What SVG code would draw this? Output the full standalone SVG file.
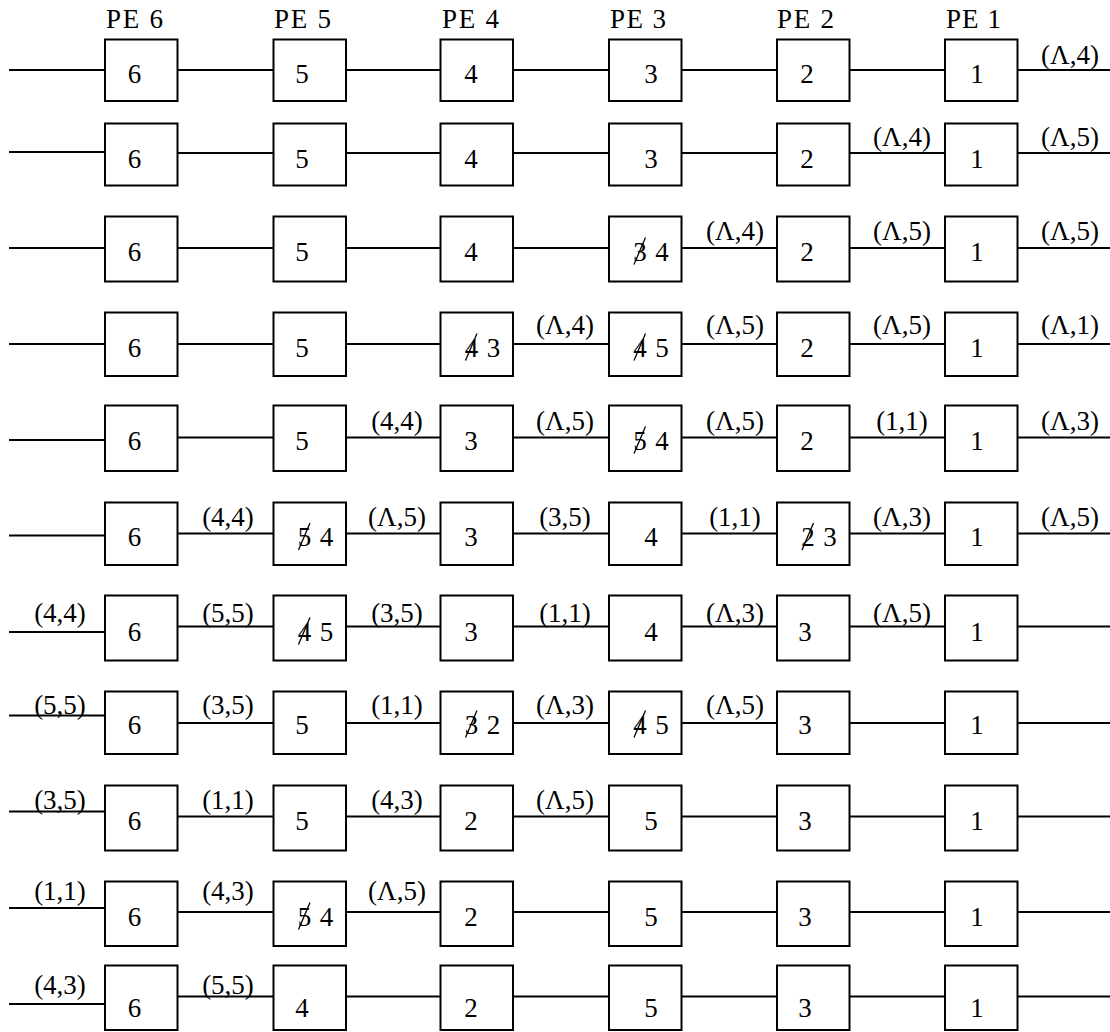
<svg xmlns="http://www.w3.org/2000/svg" width="1110" height="1032" viewBox="0 0 1110 1032" font-family="Liberation Serif, Tinos, Times New Roman, DejaVu Serif, serif">
<style>
.box{fill:#fff;stroke:#000;stroke-width:2}
.wire{fill:none;stroke:#000;stroke-width:2}
.t{font-size:27px;text-anchor:middle;fill:#000}
.pe{font-size:27px;fill:#000}
.lab{font-size:27px;text-anchor:middle;fill:#000}
.slash{stroke:#000;stroke-width:1.3;fill:none}
</style>
<rect width="1110" height="1032" fill="#fff"/>
<g id="headers">
<text class="pe" x="106" y="28" textLength="57" lengthAdjust="spacing">PE 6</text>
<text class="pe" x="274" y="28" textLength="57" lengthAdjust="spacing">PE 5</text>
<text class="pe" x="442" y="28" textLength="57" lengthAdjust="spacing">PE 4</text>
<text class="pe" x="610" y="28" textLength="56" lengthAdjust="spacing">PE 3</text>
<text class="pe" x="777" y="28" textLength="57" lengthAdjust="spacing">PE 2</text>
<text class="pe" x="946" y="28" textLength="55" lengthAdjust="spacing">PE 1</text>
</g>
<g id="connectors">
<path class="wire" d="M9 70H105M177.5 70H273.5M346 70H440.5M513 70H609M681.5 70H777M849.5 70H945M1017.5 70H1110"/>
<path class="wire" d="M9 152H105M177.5 153H273.5M346 153H440.5M513 153H609M681.5 153H777M849.5 153H945M1017.5 153H1110"/>
<path class="wire" d="M9 248H105M177.5 248H273.5M346 248H440.5M513 248H609M681.5 248H777M849.5 248H945M1017.5 248H1110"/>
<path class="wire" d="M9 344H105M177.5 344H273.5M346 344H440.5M513 344H609M681.5 344H777M849.5 344H945M1017.5 344H1110"/>
<path class="wire" d="M9 440H105M177.5 437.5H273.5M346 437.5H440.5M513 437.5H609M681.5 437.5H777M849.5 437.5H945M1017.5 437.5H1110"/>
<path class="wire" d="M9 535.5H105M177.5 533.5H273.5M346 533.5H440.5M513 533.5H609M681.5 533.5H777M849.5 533.5H945M1017.5 533.5H1110"/>
<path class="wire" d="M9 632H105M177.5 626.5H273.5M346 626.5H440.5M513 626.5H609M681.5 626.5H777M849.5 626.5H945M1017.5 626.5H1110"/>
<path class="wire" d="M9 715.5H105M177.5 723H273.5M346 723H440.5M513 723H609M681.5 723H777M849.5 723H945M1017.5 723H1110"/>
<path class="wire" d="M9 811.5H105M177.5 816.5H273.5M346 816.5H440.5M513 816.5H609M681.5 816.5H777M849.5 816.5H945M1017.5 816.5H1110"/>
<path class="wire" d="M9 908H105M177.5 912H273.5M346 912H440.5M513 912H609M681.5 912H777M849.5 912H945M1017.5 912H1110"/>
<path class="wire" d="M9 1004H105M177.5 996.5H273.5M346 996.5H440.5M513 996.5H609M681.5 996.5H777M849.5 996.5H945M1017.5 996.5H1110"/>
<g id="connector-labels">
<text class="lab" x="1070" y="63.5">(Λ,4)</text>
<text class="lab" x="902" y="146">(Λ,4)</text>
<text class="lab" x="1070" y="146">(Λ,5)</text>
<text class="lab" x="735" y="240">(Λ,4)</text>
<text class="lab" x="902" y="240">(Λ,5)</text>
<text class="lab" x="1070" y="240">(Λ,5)</text>
<text class="lab" x="565" y="334">(Λ,4)</text>
<text class="lab" x="735" y="334">(Λ,5)</text>
<text class="lab" x="902" y="334">(Λ,5)</text>
<text class="lab" x="1070" y="334">(Λ,1)</text>
<text class="lab" x="397" y="430">(4,4)</text>
<text class="lab" x="565" y="430">(Λ,5)</text>
<text class="lab" x="735" y="430">(Λ,5)</text>
<text class="lab" x="902" y="430">(1,1)</text>
<text class="lab" x="1070" y="430">(Λ,3)</text>
<text class="lab" x="228" y="525.5">(4,4)</text>
<text class="lab" x="397" y="525.5">(Λ,5)</text>
<text class="lab" x="565" y="525.5">(3,5)</text>
<text class="lab" x="735" y="525.5">(1,1)</text>
<text class="lab" x="902" y="525.5">(Λ,3)</text>
<text class="lab" x="1070" y="525.5">(Λ,5)</text>
<text class="lab" x="60" y="622">(4,4)</text>
<text class="lab" x="228" y="622">(5,5)</text>
<text class="lab" x="397" y="622">(3,5)</text>
<text class="lab" x="565" y="622">(1,1)</text>
<text class="lab" x="735" y="622">(Λ,3)</text>
<text class="lab" x="902" y="622">(Λ,5)</text>
<text class="lab" x="60" y="713.5">(5,5)</text>
<text class="lab" x="228" y="713.5">(3,5)</text>
<text class="lab" x="397" y="713.5">(1,1)</text>
<text class="lab" x="565" y="713.5">(Λ,3)</text>
<text class="lab" x="735" y="713.5">(Λ,5)</text>
<text class="lab" x="60" y="808.5">(3,5)</text>
<text class="lab" x="228" y="808.5">(1,1)</text>
<text class="lab" x="397" y="808.5">(4,3)</text>
<text class="lab" x="565" y="808.5">(Λ,5)</text>
<text class="lab" x="60" y="900">(1,1)</text>
<text class="lab" x="228" y="900">(4,3)</text>
<text class="lab" x="397" y="900">(Λ,5)</text>
<text class="lab" x="60" y="993.5">(4,3)</text>
<text class="lab" x="228" y="993.5">(5,5)</text>
</g>
</g>
<!-- Row 1 -->
<g id="r1-pe6"><rect class="box" x="105" y="39.5" width="72.5" height="61.5"/><text class="t" x="134.5" y="83">6</text></g>
<g id="r1-pe5"><rect class="box" x="273.5" y="39.5" width="72.5" height="61.5"/><text class="t" x="302" y="83">5</text></g>
<g id="r1-pe4"><rect class="box" x="440.5" y="39.5" width="72.5" height="61.5"/><text class="t" x="471" y="83">4</text></g>
<g id="r1-pe3"><rect class="box" x="609" y="39.5" width="72.5" height="61.5"/><text class="t" x="651" y="83">3</text></g>
<g id="r1-pe2"><rect class="box" x="777" y="39.5" width="72.5" height="61.5"/><text class="t" x="807" y="83">2</text></g>
<g id="r1-pe1"><rect class="box" x="945" y="39.5" width="72.5" height="61.5"/><text class="t" x="977" y="83">1</text></g>
<!-- Row 2 -->
<g id="r2-pe6"><rect class="box" x="105" y="123.5" width="72.5" height="62"/><text class="t" x="134.5" y="167.5">6</text></g>
<g id="r2-pe5"><rect class="box" x="273.5" y="123.5" width="72.5" height="62"/><text class="t" x="302" y="167.5">5</text></g>
<g id="r2-pe4"><rect class="box" x="440.5" y="123.5" width="72.5" height="62"/><text class="t" x="471" y="167.5">4</text></g>
<g id="r2-pe3"><rect class="box" x="609" y="123.5" width="72.5" height="62"/><text class="t" x="651" y="167.5">3</text></g>
<g id="r2-pe2"><rect class="box" x="777" y="123.5" width="72.5" height="62"/><text class="t" x="807" y="167.5">2</text></g>
<g id="r2-pe1"><rect class="box" x="945" y="123.5" width="72.5" height="62"/><text class="t" x="977" y="167.5">1</text></g>
<!-- Row 3 -->
<g id="r3-pe6"><rect class="box" x="105" y="216.5" width="72.5" height="65"/><text class="t" x="134.5" y="260.5">6</text></g>
<g id="r3-pe5"><rect class="box" x="273.5" y="216.5" width="72.5" height="65"/><text class="t" x="302" y="260.5">5</text></g>
<g id="r3-pe4"><rect class="box" x="440.5" y="216.5" width="72.5" height="65"/><text class="t" x="471" y="260.5">4</text></g>
<g id="r3-pe3"><rect class="box" x="609" y="216.5" width="72.5" height="65"/><text class="t" x="640" y="260.5">3</text><line class="slash" x1="634" y1="264.5" x2="645.5" y2="237.5"/><text class="t" x="662" y="260.5">4</text></g>
<g id="r3-pe2"><rect class="box" x="777" y="216.5" width="72.5" height="65"/><text class="t" x="807" y="260.5">2</text></g>
<g id="r3-pe1"><rect class="box" x="945" y="216.5" width="72.5" height="65"/><text class="t" x="977" y="260.5">1</text></g>
<!-- Row 4 -->
<g id="r4-pe6"><rect class="box" x="105" y="312.5" width="72.5" height="63.5"/><text class="t" x="134.5" y="356.5">6</text></g>
<g id="r4-pe5"><rect class="box" x="273.5" y="312.5" width="72.5" height="63.5"/><text class="t" x="302" y="356.5">5</text></g>
<g id="r4-pe4"><rect class="box" x="440.5" y="312.5" width="72.5" height="63.5"/><text class="t" x="471.5" y="356.5">4</text><line class="slash" x1="465.5" y1="360.5" x2="477" y2="333.5"/><text class="t" x="493.5" y="356.5">3</text></g>
<g id="r4-pe3"><rect class="box" x="609" y="312.5" width="72.5" height="63.5"/><text class="t" x="640" y="356.5">4</text><line class="slash" x1="634" y1="360.5" x2="645.5" y2="333.5"/><text class="t" x="662" y="356.5">5</text></g>
<g id="r4-pe2"><rect class="box" x="777" y="312.5" width="72.5" height="63.5"/><text class="t" x="807" y="356.5">2</text></g>
<g id="r4-pe1"><rect class="box" x="945" y="312.5" width="72.5" height="63.5"/><text class="t" x="977" y="356.5">1</text></g>
<!-- Row 5 -->
<g id="r5-pe6"><rect class="box" x="105" y="405.5" width="72.5" height="65.5"/><text class="t" x="134.5" y="449.5">6</text></g>
<g id="r5-pe5"><rect class="box" x="273.5" y="405.5" width="72.5" height="65.5"/><text class="t" x="302" y="449.5">5</text></g>
<g id="r5-pe4"><rect class="box" x="440.5" y="405.5" width="72.5" height="65.5"/><text class="t" x="471" y="449.5">3</text></g>
<g id="r5-pe3"><rect class="box" x="609" y="405.5" width="72.5" height="65.5"/><text class="t" x="640" y="449.5">5</text><line class="slash" x1="634" y1="453.5" x2="645.5" y2="426.5"/><text class="t" x="662" y="449.5">4</text></g>
<g id="r5-pe2"><rect class="box" x="777" y="405.5" width="72.5" height="65.5"/><text class="t" x="807" y="449.5">2</text></g>
<g id="r5-pe1"><rect class="box" x="945" y="405.5" width="72.5" height="65.5"/><text class="t" x="977" y="449.5">1</text></g>
<!-- Row 6 -->
<g id="r6-pe6"><rect class="box" x="105" y="502.5" width="72.5" height="62.5"/><text class="t" x="134.5" y="546">6</text></g>
<g id="r6-pe5"><rect class="box" x="273.5" y="502.5" width="72.5" height="62.5"/><text class="t" x="304.5" y="546">5</text><line class="slash" x1="298.5" y1="550" x2="310" y2="523"/><text class="t" x="326.5" y="546">4</text></g>
<g id="r6-pe4"><rect class="box" x="440.5" y="502.5" width="72.5" height="62.5"/><text class="t" x="471" y="546">3</text></g>
<g id="r6-pe3"><rect class="box" x="609" y="502.5" width="72.5" height="62.5"/><text class="t" x="651" y="546">4</text></g>
<g id="r6-pe2"><rect class="box" x="777" y="502.5" width="72.5" height="62.5"/><text class="t" x="808" y="546">2</text><line class="slash" x1="802" y1="550" x2="813.5" y2="523"/><text class="t" x="830" y="546">3</text></g>
<g id="r6-pe1"><rect class="box" x="945" y="502.5" width="72.5" height="62.5"/><text class="t" x="977" y="546">1</text></g>
<!-- Row 7 -->
<g id="r7-pe6"><rect class="box" x="105" y="595.5" width="72.5" height="65"/><text class="t" x="134.5" y="640.5">6</text></g>
<g id="r7-pe5"><rect class="box" x="273.5" y="595.5" width="72.5" height="65"/><text class="t" x="304.5" y="640.5">4</text><line class="slash" x1="298.5" y1="644.5" x2="310" y2="617.5"/><text class="t" x="326.5" y="640.5">5</text></g>
<g id="r7-pe4"><rect class="box" x="440.5" y="595.5" width="72.5" height="65"/><text class="t" x="471" y="640.5">3</text></g>
<g id="r7-pe3"><rect class="box" x="609" y="595.5" width="72.5" height="65"/><text class="t" x="651" y="640.5">4</text></g>
<g id="r7-pe2"><rect class="box" x="777" y="595.5" width="72.5" height="65"/><text class="t" x="805" y="640.5">3</text></g>
<g id="r7-pe1"><rect class="box" x="945" y="595.5" width="72.5" height="65"/><text class="t" x="977" y="640.5">1</text></g>
<!-- Row 8 -->
<g id="r8-pe6"><rect class="box" x="105" y="691.5" width="72.5" height="62.5"/><text class="t" x="134.5" y="733.5">6</text></g>
<g id="r8-pe5"><rect class="box" x="273.5" y="691.5" width="72.5" height="62.5"/><text class="t" x="302" y="733.5">5</text></g>
<g id="r8-pe4"><rect class="box" x="440.5" y="691.5" width="72.5" height="62.5"/><text class="t" x="471.5" y="733.5">3</text><line class="slash" x1="465.5" y1="737.5" x2="477" y2="710.5"/><text class="t" x="493.5" y="733.5">2</text></g>
<g id="r8-pe3"><rect class="box" x="609" y="691.5" width="72.5" height="62.5"/><text class="t" x="640" y="733.5">4</text><line class="slash" x1="634" y1="737.5" x2="645.5" y2="710.5"/><text class="t" x="662" y="733.5">5</text></g>
<g id="r8-pe2"><rect class="box" x="777" y="691.5" width="72.5" height="62.5"/><text class="t" x="805" y="733.5">3</text></g>
<g id="r8-pe1"><rect class="box" x="945" y="691.5" width="72.5" height="62.5"/><text class="t" x="977" y="733.5">1</text></g>
<!-- Row 9 -->
<g id="r9-pe6"><rect class="box" x="105" y="785.5" width="72.5" height="65"/><text class="t" x="134.5" y="830">6</text></g>
<g id="r9-pe5"><rect class="box" x="273.5" y="785.5" width="72.5" height="65"/><text class="t" x="302" y="830">5</text></g>
<g id="r9-pe4"><rect class="box" x="440.5" y="785.5" width="72.5" height="65"/><text class="t" x="471" y="830">2</text></g>
<g id="r9-pe3"><rect class="box" x="609" y="785.5" width="72.5" height="65"/><text class="t" x="651" y="830">5</text></g>
<g id="r9-pe2"><rect class="box" x="777" y="785.5" width="72.5" height="65"/><text class="t" x="805" y="830">3</text></g>
<g id="r9-pe1"><rect class="box" x="945" y="785.5" width="72.5" height="65"/><text class="t" x="977" y="830">1</text></g>
<!-- Row 10 -->
<g id="r10-pe6"><rect class="box" x="105" y="881.5" width="72.5" height="64.5"/><text class="t" x="134.5" y="925.5">6</text></g>
<g id="r10-pe5"><rect class="box" x="273.5" y="881.5" width="72.5" height="64.5"/><text class="t" x="304.5" y="925.5">5</text><line class="slash" x1="298.5" y1="929.5" x2="310" y2="902.5"/><text class="t" x="326.5" y="925.5">4</text></g>
<g id="r10-pe4"><rect class="box" x="440.5" y="881.5" width="72.5" height="64.5"/><text class="t" x="471" y="925.5">2</text></g>
<g id="r10-pe3"><rect class="box" x="609" y="881.5" width="72.5" height="64.5"/><text class="t" x="651" y="925.5">5</text></g>
<g id="r10-pe2"><rect class="box" x="777" y="881.5" width="72.5" height="64.5"/><text class="t" x="805" y="925.5">3</text></g>
<g id="r10-pe1"><rect class="box" x="945" y="881.5" width="72.5" height="64.5"/><text class="t" x="977" y="925.5">1</text></g>
<!-- Row 11 -->
<g id="r11-pe6"><rect class="box" x="105" y="965.5" width="72.5" height="64.5"/><text class="t" x="134.5" y="1017">6</text></g>
<g id="r11-pe5"><rect class="box" x="273.5" y="965.5" width="72.5" height="64.5"/><text class="t" x="302" y="1017">4</text></g>
<g id="r11-pe4"><rect class="box" x="440.5" y="965.5" width="72.5" height="64.5"/><text class="t" x="471" y="1017">2</text></g>
<g id="r11-pe3"><rect class="box" x="609" y="965.5" width="72.5" height="64.5"/><text class="t" x="651" y="1017">5</text></g>
<g id="r11-pe2"><rect class="box" x="777" y="965.5" width="72.5" height="64.5"/><text class="t" x="805" y="1017">3</text></g>
<g id="r11-pe1"><rect class="box" x="945" y="965.5" width="72.5" height="64.5"/><text class="t" x="977" y="1017">1</text></g>
</svg>
